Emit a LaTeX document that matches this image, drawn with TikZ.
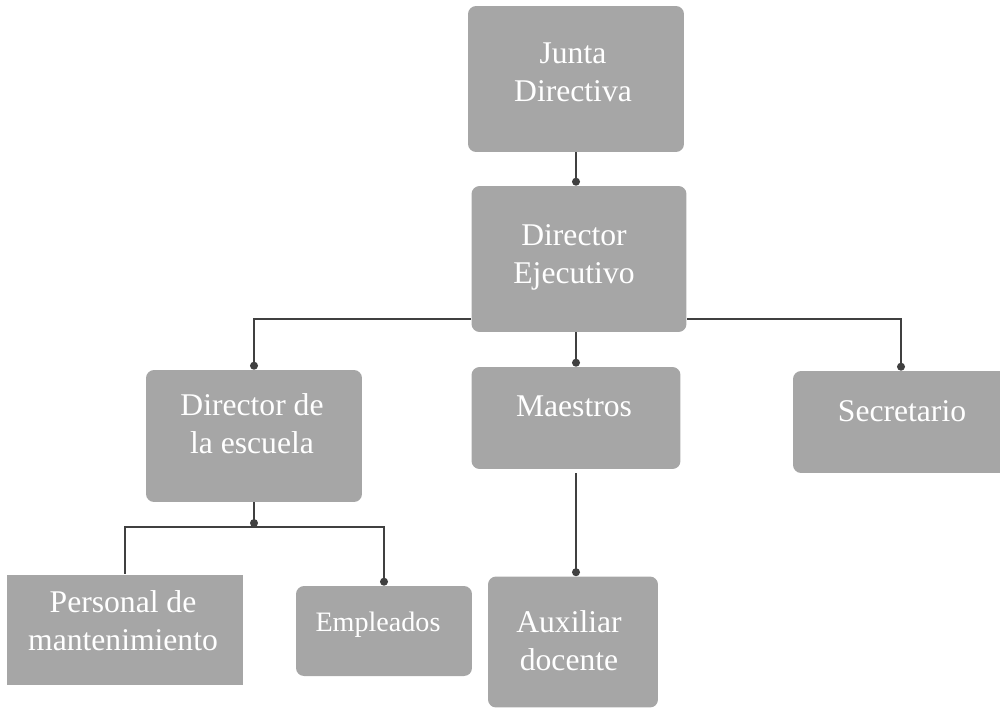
\documentclass[tikz,border=0pt]{standalone}
\usepackage{fontspec}
\setmainfont{Liberation Serif}
\usetikzlibrary{arrows.meta}
\definecolor{boxgray}{HTML}{A6A6A6}
\definecolor{linegray}{HTML}{404040}
\begin{document}
\begin{tikzpicture}[x=0.02cm,y=-0.02cm]
		\tikzstyle{box}=[fill=boxgray, rounded corners=0.16cm, inner sep=0pt]
		\tikzstyle{txt}=[text=white, align=center, inner sep=0pt, font=\fontsize{18}{21.6}\selectfont]
		\tikzstyle{link}=[draw=linegray, line width=0.9pt, -{Circle[length=4.5pt]}]
		\tikzstyle{bar}=[draw=linegray, line width=0.9pt]
		\useasboundingbox (0,0) rectangle (1000,710);
		% boxes
		\node [box, minimum width=4.32cm, minimum height=2.92cm] (junta) at (576,79) {};
		\node [txt] (junta-t) at (573,72) {Junta\\Directiva};
		\node [box, minimum width=4.3cm, minimum height=2.92cm] (dirje) at (579,259) {};
		\node [txt] (dirje-t) at (574,257) {Director\\Ejecutivo};
		\node [box, minimum width=4.32cm, minimum height=2.64cm] (dires) at (254,436) {};
		\node [txt] (dires-t) at (252,424) {Director de\\la escuela};
		\node [box, minimum width=4.18cm, minimum height=2.04cm] (maes) at (576,418) {};
		\node [txt] (maes-t) at (574,406) {Maestros};
		\node [box, minimum width=4.32cm, minimum height=2.04cm] (secr) at (901,422) {};
		\node [txt] (secr-t) at (902,411) {Secretario};
		\node [box, minimum width=3.4cm, minimum height=2.62cm] (aux) at (573,642) {};
		\node [txt] (aux-t) at (569,641) {Auxiliar\\docente};
		\node [box, rounded corners=0pt, minimum width=4.74cm, minimum height=2.22cm] (pers) at (125,630) {};
		\node [txt] (pers-t) at (123,621) {Personal de\\mantenimiento};
		\node [box, minimum width=3.52cm, minimum height=1.8cm] (empl) at (384,631) {};
		\node [txt, font=\fontsize{16}{19}\selectfont] (empl-t) at (378,625) {Empleados};
		% connectors
		\coordinate (split) at (576,319);
		\coordinate (hub) at (254,527);
		\draw [link] (junta.south) -- (junta.south |- dirje.north);
		\draw [link] (maes.north |- dirje.south) -- (maes.north);
		\draw [link] (dirje.west |- split) -| (dires.north);
		\draw [link] (dirje.east |- split) -| (secr.north);
		\draw [link, shorten <=0.08cm] (maes.south) -- (maes.south |- aux.north);
		\draw [link] (dires.south) -- (hub);
		\draw [bar] (hub) -| (pers.north);
		\draw [link] (hub) -| (empl.north);
\end{tikzpicture}
\end{document}
